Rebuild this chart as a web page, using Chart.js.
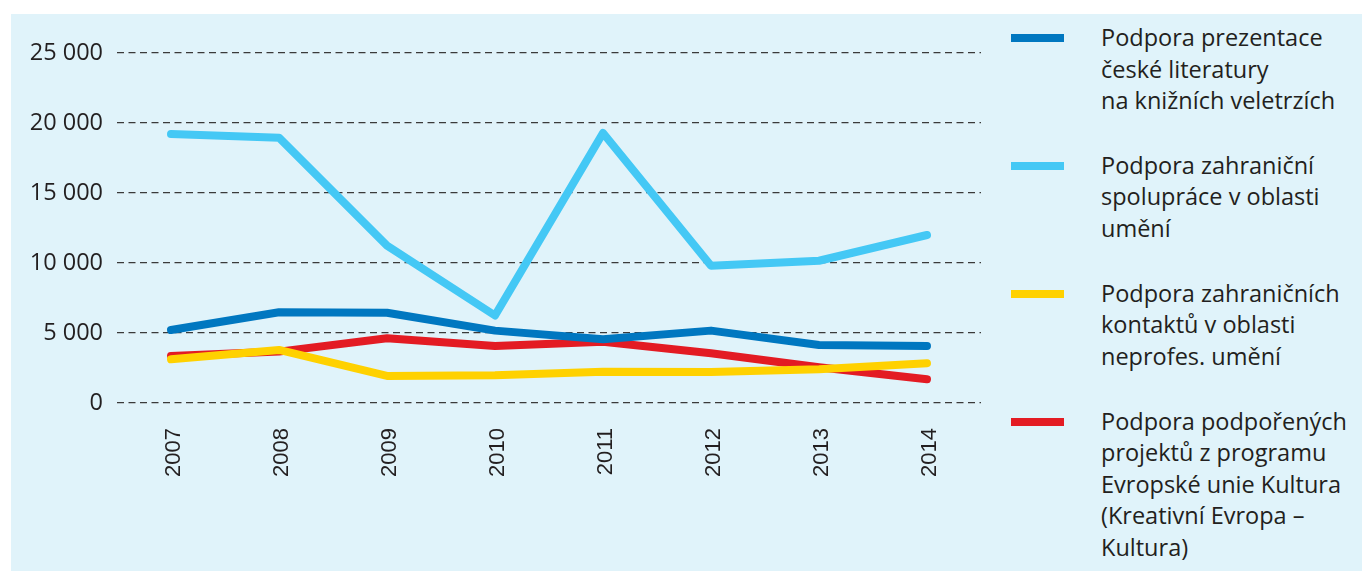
<!DOCTYPE html>
<html lang="cs">
  <head>
    <meta charset="utf-8" />
    <title>Podpora 2007–2014</title>
    <script src="https://cdn.jsdelivr.net/npm/chart.js@4.4.0/dist/chart.umd.min.js"></script>
    <style>
      body { margin: 0; background: #fff; }
      .box {
        position: absolute; left: 11px; top: 14px;
        width: 1351px; height: 557px;
        background: #e0f3fa;
      }
      .plot { position: absolute; left: 0; top: 0; width: 985px; height: 557px; }
      .legend {
        position: absolute; left: 1090px; top: 8px;
        font-family: "Open Sans", sans-serif; font-size: 23.5px; line-height: 31.5px;
        color: #231f20;
      }
      .item { position: relative; margin-bottom: 33.4px; white-space: pre; }
      .swatch { position: absolute; left: -90px; top: 12.4px; width: 53px; height: 8px; }
    </style>
  </head>
  <body>
    <div class="box">
      <div class="plot"><canvas id="chart"></canvas></div>
      <div class="legend"></div>
    </div>

    <script>
      const years = ['2007', '2008', '2009', '2010', '2011', '2012', '2013', '2014'];

      const prezentace = [5210, 6480, 6450, 5170, 4550, 5170, 4140, 4070];
      const spoluprace = [19210, 18950, 11240, 6250, 19290, 9800, 10160, 12000];
      const kontakty   = [3120, 3790, 1930, 1980, 2240, 2210, 2410, 2840];
      const kultura    = [3360, 3670, 4620, 4070, 4380, 3550, 2550, 1690];

      const seriesNames = [
        'Podpora prezentace\nčeské literatury\nna knižních veletrzích',
        'Podpora zahraniční\nspolupráce v oblasti\numění',
        'Podpora zahraničních\nkontaktů v oblasti\nneprofes. umění',
        'Podpora podpořených\nprojektů z programu\nEvropské unie Kultura\n(Kreativní Evropa –\nKultura)'
      ];
      const seriesColors = ['#0077c0', '#44c8f5', '#ffd100', '#e31b23'];
      const seriesValues = [prezentace, spoluprace, kontakty, kultura];

      // legend on the right, built from the same arrays
      const legendDiv = document.querySelector('.legend');
      seriesNames.forEach((name, i) => {
        const item = document.createElement('div');
        item.className = 'item';
        item.textContent = name;
        const sw = document.createElement('span');
        sw.className = 'swatch';
        sw.style.background = seriesColors[i];
        item.appendChild(sw);
        legendDiv.appendChild(item);
      });

      function formatThousands(v) {
        return String(v).replace(/\B(?=(\d{3})+(?!\d))/g, ' ');
      }

      new Chart(document.getElementById('chart'), {
        type: 'line',
        data: {
          labels: years,
          datasets: seriesValues.map((vals, i) => ({
            label: seriesNames[i],
            data: vals,
            borderColor: seriesColors[i],
            backgroundColor: seriesColors[i],
            borderWidth: 8,
            borderCapStyle: 'round',
            borderJoinStyle: 'round',
            pointRadius: 0,
            tension: 0,
            fill: false
          }))
        },
        options: {
          responsive: true,
          maintainAspectRatio: false,
          animation: false,
          layout: { padding: { top: 39, right: 15, bottom: 0, left: 0 } },
          plugins: {
            legend: { display: false },
            tooltip: { enabled: false }
          },
          scales: {
            x: {
              offset: true,
              grid: { display: false, drawTicks: false },
              border: { display: false },
              ticks: {
                color: '#231f20',
                font: { family: '"Liberation Sans", Arial, sans-serif', size: 22 },
                minRotation: 90,
                maxRotation: 90,
                padding: 25,
                labelOffset: 3
              },
              afterFit: (scale) => { scale.height = 168; }
            },
            y: {
              min: 0,
              max: 25000,
              grid: { color: '#3a3a3a', lineWidth: 1.2, drawTicks: false },
              border: { display: false, dash: [7, 4.5] },
              ticks: {
                stepSize: 5000,
                color: '#231f20',
                font: { family: '"Open Sans", sans-serif', size: 23.5 },
                padding: 14,
                callback: (v) => formatThousands(v)
              },
              afterFit: (scale) => { scale.width = 106; }
            }
          }
        }
      });
    </script>
  </body>
</html>
